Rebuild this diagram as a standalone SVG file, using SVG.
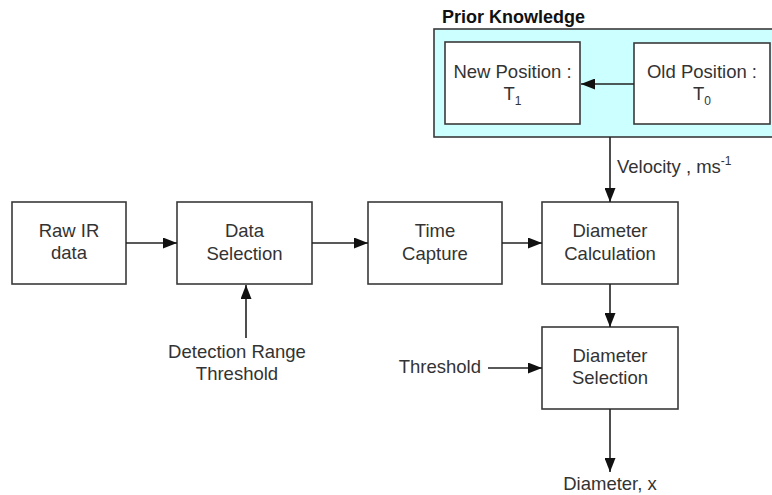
<svg xmlns="http://www.w3.org/2000/svg" width="772" height="495" viewBox="0 0 772 495">
<defs>
<style>
.box{fill:#fff;stroke:#3a3a3a;stroke-width:1.6}
.t{font-family:"Liberation Sans",Arial,sans-serif;font-size:18.5px;fill:#333;text-anchor:middle}
.c{stroke:#222;stroke-width:1.6;fill:none;marker-end:url(#ah)}
</style>
<marker id="ah" viewBox="0 0 14 11" refX="14" refY="5.5" markerWidth="14" markerHeight="11" markerUnits="userSpaceOnUse" orient="auto">
<path d="M0,0 L14,5.5 L0,11 Z" fill="#111"/>
</marker>
</defs>
<rect width="772" height="495" fill="#fff"/>
<g id="prior">
<text x="442" y="23" style="font-family:'Liberation Sans',Arial,sans-serif;font-size:18px;font-weight:bold;fill:#111">Prior Knowledge</text>
<rect x="434" y="29" width="345" height="108" fill="#ccffff" stroke="#3a3a3a" stroke-width="1.6"/>
</g>
<g id="newpos">
<rect class="box" x="445" y="42" width="135" height="82"/>
<text class="t" x="512.5" y="78">New Position :</text>
<text class="t" x="512.5" y="100">T<tspan font-size="12" dy="5">1</tspan></text>
</g>
<g id="oldpos">
<rect class="box" x="634" y="43" width="136" height="81"/>
<text class="t" x="702" y="78">Old Position :</text>
<text class="t" x="702" y="100">T<tspan font-size="12" dy="5">0</tspan></text>
</g>
<g id="raw">
<rect class="box" x="12" y="202" width="114" height="82"/>
<text class="t" x="69" y="237">Raw IR</text>
<text class="t" x="69" y="259">data</text>
</g>
<g id="datasel">
<rect class="box" x="177" y="202" width="135" height="82"/>
<text class="t" x="244.5" y="237">Data</text>
<text class="t" x="244.5" y="260">Selection</text>
</g>
<g id="time">
<rect class="box" x="368" y="202" width="134" height="82"/>
<text class="t" x="435" y="237">Time</text>
<text class="t" x="435" y="260">Capture</text>
</g>
<g id="diamcalc">
<rect class="box" x="542" y="202" width="136" height="82"/>
<text class="t" x="610" y="237">Diameter</text>
<text class="t" x="610" y="260">Calculation</text>
</g>
<g id="diamsel">
<rect class="box" x="542" y="327" width="136" height="82"/>
<text class="t" x="610" y="362">Diameter</text>
<text class="t" x="610" y="384">Selection</text>
</g>
<g id="labels">
<text class="t" x="617" y="173" style="text-anchor:start">Velocity , ms<tspan font-size="12" dy="-8">-1</tspan></text>
<text class="t" x="237" y="358">Detection Range</text>
<text class="t" x="237" y="380">Threshold</text>
<text class="t" x="481" y="373" style="text-anchor:end">Threshold</text>
<text class="t" x="610" y="490">Diameter, x</text>
</g>
<g id="connectors">
<line class="c" x1="634" y1="84" x2="581" y2="84"/>
<line class="c" x1="610" y1="137" x2="610" y2="202"/>
<line class="c" x1="126" y1="243" x2="177" y2="243"/>
<line class="c" x1="312" y1="243" x2="368" y2="243"/>
<line class="c" x1="502" y1="243" x2="542" y2="243"/>
<line class="c" x1="610" y1="284" x2="610" y2="327"/>
<line class="c" x1="246" y1="338" x2="246" y2="285"/>
<line class="c" x1="488" y1="368" x2="542" y2="368"/>
<line class="c" x1="610" y1="409" x2="610" y2="472"/>
</g>
</svg>
